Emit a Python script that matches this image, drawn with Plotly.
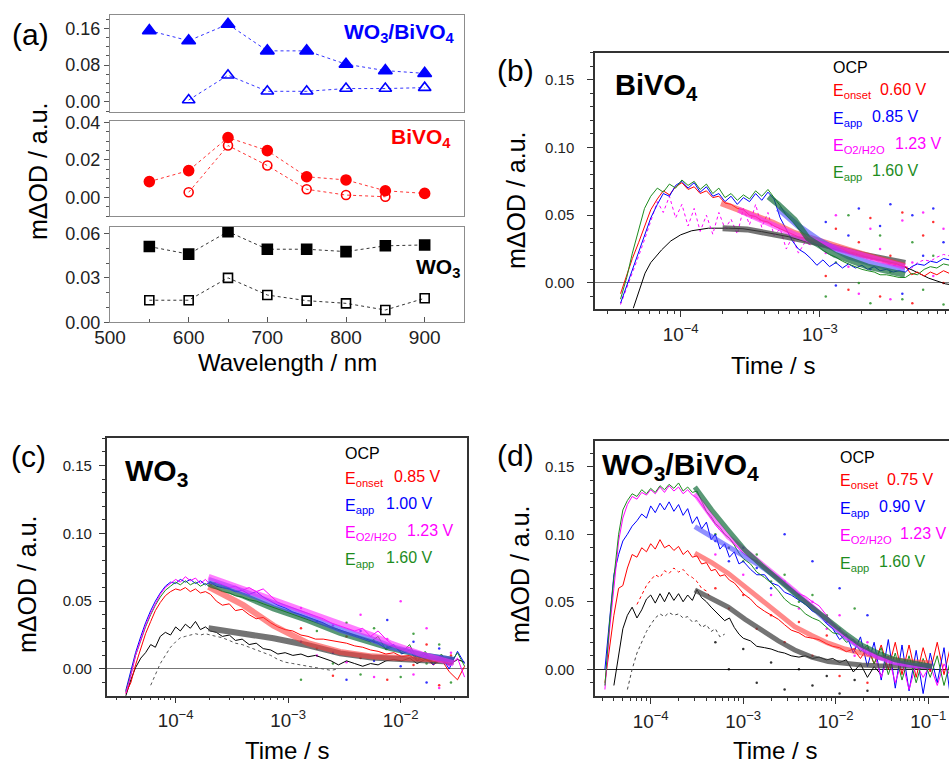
import plotly.graph_objects as go

W, H = 949, 763
FONT = "Arial, Liberation Sans, sans-serif"
RED, BLUE, MAG, GRN, BLK = "#ff0000", "#0000ff", "#ff00ff", "#1e8c1e", "#000000"
FIT = {"k": "rgba(70,70,70,0.75)", "r": "rgba(255,60,60,0.6)", "b": "rgba(70,70,255,0.6)",
       "m": "rgba(255,40,255,0.6)", "g": "rgba(20,110,60,0.7)"}

# ---------------- Panel (a): spectra ----------------
wl = [550, 600, 650, 700, 750, 800, 850, 900]
wl_comp_open = [600, 650, 700, 750, 800, 850, 900]
comp_filled = [0.155, 0.133, 0.169, 0.111, 0.111, 0.082, 0.068, 0.062]
comp_open = [0.004, 0.058, 0.023, 0.023, 0.029, 0.029, 0.031]
wl_bv_open = [600, 650, 700, 750, 800, 850]
bivo4_filled = [0.0084, 0.0143, 0.0320, 0.0250, 0.0110, 0.0093, 0.0035, 0.0021]
bivo4_open = [0.0027, 0.0277, 0.0170, 0.0043, 0.0012, 0.0003]
wo3_filled = [0.0511, 0.0460, 0.0612, 0.0493, 0.0493, 0.0477, 0.0516, 0.0522]
wo3_open = [0.0149, 0.0149, 0.0300, 0.0184, 0.0146, 0.0128, 0.0083, 0.0162]

# ---------------- Panel (b): BiVO4 transients ----------------
b_t = [3.7e-5, 4.1e-5, 4.5e-5, 5.0e-5, 5.5e-5, 6.1e-5, 6.8e-5, 7.5e-5, 8.3e-5, 9.2e-5,
       1.02e-4, 1.13e-4, 1.25e-4, 1.38e-4, 1.53e-4, 1.7e-4, 1.88e-4, 2.08e-4, 2.3e-4, 2.55e-4,
       2.82e-4, 3.12e-4, 3.45e-4, 3.82e-4, 4.23e-4, 4.68e-4, 5.18e-4, 5.73e-4, 6.34e-4, 7.0e-4,
       7.8e-4, 8.6e-4, 9.5e-4, 1.05e-3, 1.17e-3, 1.3e-3, 1.45e-3, 1.6e-3, 1.8e-3, 2.0e-3,
       2.2e-3, 2.45e-3, 2.7e-3, 3.0e-3, 3.35e-3, 3.7e-3, 4.1e-3, 4.55e-3, 5.0e-3, 5.6e-3,
       6.2e-3, 6.9e-3, 7.7e-3, 8.5e-3]
b_green = [-0.012, 0.004, 0.022, 0.040, 0.055, 0.064, 0.070, 0.067, 0.073, 0.070,
           0.076, 0.072, 0.075, 0.069, 0.073, 0.066, 0.070, 0.063, 0.066, 0.061,
           0.065, 0.062, 0.068, 0.064, 0.069, 0.063, 0.057, 0.050, 0.045, 0.040,
           0.035, 0.031, 0.028, 0.024, 0.021, 0.019, 0.016, 0.014, 0.012, 0.010,
           0.009, 0.008, 0.006, 0.006, 0.005, 0.004, 0.004, 0.007, 0.006, 0.010,
           0.012, 0.011, 0.014, 0.013]
b_blue = [-0.015, -0.002, 0.010, 0.022, 0.035, 0.048, 0.058, 0.066, 0.064, 0.072,
          0.075, 0.070, 0.074, 0.067, 0.071, 0.064, 0.066, 0.060, 0.064, 0.058,
          0.063, 0.060, 0.066, 0.061, 0.067, 0.062, 0.048, 0.040, 0.031, 0.025,
          0.022, 0.018, 0.013, 0.017, 0.012, 0.015, 0.011, 0.014, 0.011, 0.013,
          0.010, 0.012, 0.009, 0.010, 0.008, 0.009, 0.008, 0.012, 0.014, 0.013,
          0.016, 0.015, 0.018, 0.017]
b_red = [-0.008, 0.006, 0.018, 0.030, 0.042, 0.054, 0.062, 0.068, 0.065, 0.071,
         0.074, 0.069, 0.071, 0.066, 0.068, 0.063, 0.064, 0.059, 0.058, 0.055,
         0.054, 0.050, 0.049, 0.046, 0.045, 0.042, 0.040, 0.038, 0.036, 0.034,
         0.033, 0.031, 0.030, 0.029, 0.027, 0.026, 0.025, 0.023, 0.022, 0.020,
         0.019, 0.018, 0.017, 0.015, 0.014, 0.013, 0.012, 0.006, 0.008, 0.005,
         0.008, 0.006, 0.009, 0.007]
b_mag = [-0.016, -0.004, 0.008, 0.020, 0.032, 0.045, 0.060, 0.052, 0.064, 0.048,
         0.058, 0.042, 0.055, 0.038, 0.050, 0.036, 0.052, 0.040, 0.047, 0.036,
         0.055, 0.043, 0.058, 0.041, 0.052, 0.035, 0.040, 0.025, 0.034, 0.022,
         0.030, 0.028, 0.030, 0.028, 0.026, 0.025, 0.024, 0.022, 0.021, 0.020,
         0.018, 0.017, 0.016, 0.015, 0.013, 0.013, 0.012, 0.011, 0.015, 0.017,
         0.016, 0.019, 0.021, 0.020]
b_ocp_t = [4.57e-5, 5.0e-5, 5.55e-5, 6.1e-5, 7.3e-5, 8.5e-5, 1.0e-4, 1.2e-4, 1.58e-4, 2.2e-4,
           2.8e-4, 3.8e-4, 5.9e-4, 8.7e-4, 1.51e-3, 2.5e-3, 3.47e-3, 4.57e-3, 6.03e-3, 7.94e-3, 8.9e-3]
b_ocp = [-0.0187, -0.006, 0.0072, 0.015, 0.0244, 0.031, 0.0355, 0.0385, 0.0404, 0.0404,
         0.0400, 0.0379, 0.0342, 0.0293, 0.0231, 0.0175, 0.0145, 0.0096, 0.0035, -0.0007, -0.0015]
b_fit_k_t = [2.0e-4, 3.0e-4, 5.9e-4, 1.0e-3, 2.0e-3, 4.1e-3]
b_fit_k = [0.0404, 0.0395, 0.0338, 0.0290, 0.0210, 0.0148]
b_fit_r_t = [1.95e-4, 3.0e-4, 4.6e-4, 6.6e-4, 1.0e-3, 1.6e-3, 2.5e-3, 4.07e-3]
b_fit_r = [0.0589, 0.0515, 0.0445, 0.0367, 0.0305, 0.0244, 0.0185, 0.0126]
b_fit_m_t = [2.6e-4, 4.0e-4, 6.6e-4, 1.0e-3, 1.6e-3, 2.5e-3, 4.07e-3]
b_fit_m = [0.0540, 0.0460, 0.0355, 0.0290, 0.0230, 0.0175, 0.0118]
b_fit_b_t = [5.0e-4, 7.0e-4, 1.0e-3, 1.15e-3, 1.6e-3, 2.5e-3, 4.07e-3]
b_fit_b = [0.0550, 0.0420, 0.0310, 0.0275, 0.0195, 0.0135, 0.0096]
b_fit_g_t = [4.27e-4, 5.0e-4, 6.6e-4, 8.2e-4, 1.28e-3, 2.2e-3, 4.07e-3]
b_fit_g = [0.0637, 0.0580, 0.0465, 0.0330, 0.0207, 0.0120, 0.0059]
b_dot_t = [1.1e-3, 1.3e-3, 1.6e-3, 1.9e-3, 2.3e-3, 2.7e-3, 3.2e-3, 3.9e-3, 4.6e-3, 5.5e-3, 6.5e-3, 7.7e-3]
b_dot_red = [0.005, 0.040, -0.005, 0.030, 0.048, -0.010, 0.020, 0.052, -0.015, 0.035, 0.045, 0.000]
b_dot_blue = [0.045, -0.002, 0.035, 0.055, 0.010, 0.042, 0.058, -0.008, 0.050, 0.020, 0.055, 0.030]
b_dot_mag = [0.022, 0.050, 0.012, -0.008, 0.040, 0.025, -0.012, 0.046, 0.015, 0.052, 0.005, 0.040]
b_dot_green = [-0.010, 0.015, 0.050, 0.000, -0.015, 0.035, 0.008, -0.012, 0.030, -0.005, 0.020, -0.016]

# ---------------- Panel (c): WO3 transients ----------------
c_t = [3.6e-5, 4.0e-5, 4.4e-5, 4.9e-5, 5.4e-5, 6.0e-5, 6.6e-5, 7.3e-5, 8.1e-5, 9.0e-5,
       1.0e-4, 1.1e-4, 1.22e-4, 1.35e-4, 1.5e-4, 1.66e-4, 1.84e-4, 2.04e-4, 2.3e-4, 2.6e-4,
       3.0e-4, 3.4e-4, 3.9e-4, 4.5e-4, 5.2e-4, 6.0e-4, 7.0e-4, 8.1e-4, 9.4e-4, 1.1e-3,
       1.3e-3, 1.5e-3, 1.75e-3, 2.05e-3, 2.4e-3, 2.8e-3, 3.3e-3, 3.9e-3, 4.6e-3, 5.4e-3,
       6.3e-3, 7.4e-3, 8.7e-3, 1.02e-2, 1.2e-2, 1.4e-2, 1.65e-2, 1.95e-2, 2.3e-2, 2.7e-2,
       3.2e-2, 3.7e-2]
c_mag = [-0.018, -0.005, 0.010, 0.022, 0.032, 0.041, 0.048, 0.055, 0.060, 0.063,
         0.066, 0.064, 0.068, 0.065, 0.067, 0.063, 0.066, 0.062, 0.064, 0.062,
         0.060, 0.061, 0.058, 0.060, 0.057, 0.059, 0.054, 0.049, 0.047, 0.045,
         0.043, 0.041, 0.039, 0.037, 0.034, 0.032, 0.030, 0.028, 0.030, 0.024,
         0.028, 0.022, 0.017, 0.014, 0.016, 0.009, 0.012, 0.005, 0.010, 0.002,
         0.008, -0.006]
c_blue = [-0.016, -0.002, 0.012, 0.024, 0.034, 0.043, 0.050, 0.056, 0.061, 0.064,
          0.063, 0.066, 0.064, 0.066, 0.063, 0.065, 0.062, 0.064, 0.061, 0.060,
          0.059, 0.057, 0.058, 0.055, 0.057, 0.053, 0.050, 0.047, 0.045, 0.042,
          0.040, 0.038, 0.036, 0.034, 0.031, 0.029, 0.027, 0.025, 0.023, 0.021,
          0.019, 0.015, 0.018, 0.011, 0.014, 0.006, 0.011, 0.003, 0.009, 0.000,
          0.013, 0.004]
c_green = [-0.017, -0.004, 0.010, 0.021, 0.031, 0.040, 0.047, 0.053, 0.058, 0.061,
           0.064, 0.062, 0.065, 0.062, 0.064, 0.061, 0.063, 0.060, 0.059, 0.057,
           0.056, 0.054, 0.053, 0.051, 0.050, 0.048, 0.046, 0.044, 0.042, 0.040,
           0.038, 0.036, 0.034, 0.032, 0.030, 0.028, 0.026, 0.024, 0.022, 0.020,
           0.024, 0.014, 0.017, 0.012, 0.018, 0.007, 0.013, 0.004, 0.011, 0.003,
           0.012, 0.002]
c_red = [-0.018, -0.010, 0.003, 0.015, 0.026, 0.035, 0.043, 0.049, 0.054, 0.057,
         0.059, 0.058, 0.060, 0.057, 0.059, 0.056, 0.057, 0.055, 0.050, 0.047,
         0.048, 0.043, 0.044, 0.040, 0.037, 0.038, 0.034, 0.031, 0.029, 0.028,
         0.025, 0.024, 0.022, 0.022, 0.021, 0.020, 0.019, 0.017, 0.016, 0.014,
         0.013, 0.011, 0.012, 0.009, 0.010, 0.006, 0.008, 0.003, 0.007, -0.002,
         -0.008, 0.002]
c_ocp = [-0.020, -0.008, 0.001, 0.008, 0.012, 0.018, 0.016, 0.024, 0.027, 0.025,
         0.031, 0.028, 0.033, 0.030, 0.035, 0.029, 0.031, 0.028, 0.027, 0.024,
         0.025, 0.021, 0.022, 0.018, 0.019, 0.015, 0.014, 0.011, 0.012, 0.010,
         0.011, 0.009, 0.010, 0.008, 0.006, 0.003, 0.006, 0.004, 0.002, 0.004,
         0.003, 0.006, 0.007, 0.006, 0.008, 0.004, 0.007, 0.005, 0.006, 0.003,
         0.007, 0.005]
c_ocp_dot = [None, None, None, None, None, -0.012, -0.004, 0.004, 0.010, 0.016,
             0.020, 0.023, 0.024, 0.025, 0.026, 0.025, 0.026, 0.025, 0.024, 0.023,
             0.021, 0.019, 0.018, 0.016, 0.014, 0.012, 0.010, 0.007, 0.005, 0.004,
             0.003, 0.002, 0.001, 0.000, -0.001, 0.000, None, None, None, None,
             None, None, None, None, None, None, None, None, None, None, None, None]
c_fit_t = [1.96e-4, 4.0e-4, 7.4e-4, 1.5e-3, 2.9e-3, 5.5e-3, 8.1e-3, 1.6e-2, 2.96e-2]
c_fit_k = [0.0300, 0.0265, 0.0226, 0.0175, 0.0115, 0.0085, 0.0075, 0.0065, 0.0054]
c_fit_r = [0.0606, 0.0470, 0.0320, 0.0190, 0.0125, 0.0093, 0.0085, 0.0075, 0.0066]
c_fit_b = [0.0656, 0.0570, 0.0484, 0.0390, 0.0290, 0.0220, 0.0165, 0.0100, 0.0066]
c_fit_m = [0.0680, 0.0590, 0.0508, 0.0420, 0.0337, 0.0250, 0.0189, 0.0103, 0.0042]
c_fit_g = [0.0630, 0.0540, 0.0447, 0.0360, 0.0266, 0.0200, 0.0153, 0.0100, 0.0066]
c_dot_t = [1.3e-3, 1.8e-3, 2.5e-3, 3.3e-3, 4.4e-3, 5.8e-3, 7.6e-3, 1.0e-2, 1.3e-2, 1.7e-2, 2.2e-2, 2.8e-2]
c_dot_red = [0.030, 0.015, -0.005, 0.024, 0.008, 0.020, -0.008, 0.014, 0.003, 0.018, -0.012, 0.010]
c_dot_blue = [0.020, 0.035, 0.012, -0.008, 0.028, 0.006, 0.036, 0.002, 0.020, -0.010, 0.015, 0.008]
c_dot_mag = [0.045, 0.010, 0.032, 0.005, 0.040, -0.006, 0.022, 0.050, -0.004, 0.030, -0.014, 0.012]
c_dot_green = [-0.008, 0.028, 0.004, 0.034, -0.004, 0.030, 0.016, -0.006, 0.026, 0.004, 0.018, -0.010]

# ---------------- Panel (d): WO3/BiVO4 transients ----------------
d_t = [3.2e-5, 3.6e-5, 4.0e-5, 4.5e-5, 5.0e-5, 5.6e-5, 6.3e-5, 7.1e-5, 8.0e-5, 9.0e-5,
       1.0e-4, 1.12e-4, 1.26e-4, 1.41e-4, 1.58e-4, 1.78e-4, 2.0e-4, 2.24e-4, 2.51e-4, 2.82e-4,
       3.16e-4, 3.55e-4, 4.0e-4, 4.5e-4, 5.0e-4, 5.6e-4, 6.3e-4, 7.1e-4, 8.0e-4, 9.0e-4,
       1.0e-3, 1.2e-3, 1.4e-3, 1.7e-3, 2.0e-3, 2.4e-3, 2.8e-3, 3.3e-3, 4.0e-3, 4.7e-3,
       5.6e-3, 6.6e-3, 7.9e-3, 9.3e-3, 1.1e-2, 1.3e-2, 1.55e-2, 1.85e-2, 2.2e-2, 2.6e-2,
       3.1e-2, 3.7e-2, 4.4e-2, 5.2e-2, 6.2e-2, 7.4e-2, 8.8e-2, 0.105, 0.125, 0.148, 0.17]
d_mag = [-0.015, 0.030, 0.060, 0.095, 0.112, 0.122, 0.128, 0.126, 0.131, 0.129,
         0.133, 0.130, 0.135, 0.131, 0.136, 0.132, 0.135, 0.130, 0.133, 0.129,
         0.127, 0.122, 0.116, 0.111, 0.107, 0.103, 0.100, 0.097, 0.093, 0.089,
         0.086, 0.082, 0.080, 0.076, 0.072, 0.067, 0.063, 0.060, 0.056, 0.054,
         0.050, 0.047, 0.040, 0.034, 0.029, 0.024, 0.019, 0.017, 0.010, 0.012,
         -0.006, 0.010, -0.010, 0.006, -0.015, 0.004, -0.006, 0.003, -0.012, 0.004, -0.004]
d_green = [-0.012, 0.035, 0.068, 0.100, 0.118, 0.125, 0.130, 0.128, 0.133, 0.130,
           0.134, 0.131, 0.136, 0.133, 0.137, 0.134, 0.138, 0.132, 0.135, 0.131,
           0.132, 0.124, 0.117, 0.113, 0.108, 0.105, 0.100, 0.097, 0.092, 0.086,
           0.082, 0.078, 0.072, 0.068, 0.064, 0.058, 0.052, 0.048, 0.046, 0.041,
           0.038, 0.036, 0.031, 0.027, 0.026, 0.020, 0.022, 0.013, 0.018, 0.004,
           0.016, -0.004, 0.012, -0.008, 0.010, -0.010, 0.008, -0.006, 0.010, -0.012, 0.004]
d_blue = [0.000, 0.040, 0.070, 0.085, 0.095, 0.100, 0.106, 0.110, 0.115, 0.112,
          0.121, 0.116, 0.123, 0.118, 0.124, 0.117, 0.122, 0.114, 0.119, 0.108,
          0.113, 0.104, 0.109, 0.096, 0.100, 0.089, 0.093, 0.083, 0.087, 0.078,
          0.080, 0.074, 0.070, 0.070, 0.064, 0.062, 0.057, 0.055, 0.051, 0.048,
          0.043, 0.041, 0.034, 0.030, 0.022, 0.026, 0.012, 0.024, 0.002, 0.020,
          -0.008, 0.022, -0.014, 0.018, -0.016, 0.014, -0.018, 0.012, -0.010, 0.016, -0.016]
d_red = [-0.010, 0.015, 0.040, 0.060, 0.062, 0.075, 0.085, 0.083, 0.090, 0.087,
         0.093, 0.089, 0.096, 0.090, 0.092, 0.088, 0.091, 0.085, 0.088, 0.083,
         0.084, 0.078, 0.079, 0.073, 0.074, 0.069, 0.070, 0.066, 0.064, 0.060,
         0.056, 0.052, 0.047, 0.043, 0.040, 0.037, 0.033, 0.029, 0.027, 0.024,
         0.023, 0.022, 0.019, 0.017, 0.016, 0.013, 0.015, 0.008, 0.016, 0.004,
         0.018, 0.000, 0.020, -0.004, 0.018, -0.006, 0.016, -0.002, 0.020, -0.004, 0.014]
d_ocp = [None, None, -0.012, 0.010, 0.030, 0.040, 0.046, 0.038, 0.044, 0.052,
         0.055, 0.049, 0.056, 0.050, 0.057, 0.051, 0.056, 0.050, 0.055, 0.051,
         0.059, 0.053, 0.050, 0.046, 0.043, 0.040, 0.036, 0.038, 0.031, 0.026,
         0.023, 0.021, 0.017, 0.016, 0.015, 0.013, 0.012, 0.010, 0.009, 0.010,
         0.008, 0.009, 0.007, 0.008, 0.005, 0.007, -0.002, 0.004, -0.006, 0.002,
         -0.004, None, None, None, None, None, None, None, None, None, None]
d_ocp_dot = [None, None, None, None, None, -0.015, 0.000, 0.012, 0.020, 0.028,
             0.033, 0.038, 0.041, 0.039, 0.042, 0.040, 0.041, 0.038, 0.039, 0.035,
             0.036, 0.031, 0.033, 0.028, 0.030, 0.024, 0.026, None, None, None,
             None, None, None, None, None, None, None, None, None, None,
             None, None, None, None, None, None, None, None, None, None,
             None, None, None, None, None, None, None, None, None, None, None]
d_red_dot = [None, None, None, None, None, None, None, 0.048, 0.055, 0.062,
             0.066, 0.070, 0.068, 0.073, 0.071, 0.075, 0.072, 0.074, 0.070, 0.068,
             0.065, 0.060, 0.058, 0.052, None, None, None, None, None, None,
             None, None, None, None, None, None, None, None, None, None,
             None, None, None, None, None, None, None, None, None, None,
             None, None, None, None, None, None, None, None, None, None, None]
d_fit_t = [3.0e-4, 4.57e-4, 6.9e-4, 1.05e-3, 1.58e-3, 2.4e-3, 3.6e-3, 5.5e-3, 8.3e-3,
           1.26e-2, 1.9e-2, 2.9e-2, 4.4e-2, 6.6e-2, 0.11]
d_fit_k = [0.0587, 0.052, 0.046, 0.037, 0.029, 0.021, 0.0143, 0.009, 0.0057, 0.004,
           0.0032, 0.0026, 0.0022, 0.002, 0.002]
d_fit_r = [0.086, 0.079, 0.071, 0.061, 0.0513, 0.041, 0.0316, 0.025, 0.0193, 0.015,
           0.0119, 0.009, 0.007, 0.0055, 0.0046]
d_fit_b = [0.1056, 0.098, 0.091, 0.084, 0.076, 0.067, 0.057, 0.046, 0.035, 0.024,
           0.0155, 0.009, 0.005, 0.003, 0.002]
d_fit_m = [0.130, 0.113, 0.098, 0.088, 0.079, 0.068, 0.058, 0.047, 0.036, 0.025,
           0.016, 0.009, 0.005, 0.003, 0.002]
d_fit_g = [0.135, 0.118, 0.103, 0.088, 0.077, 0.066, 0.056, 0.046, 0.036, 0.0267,
           0.018, 0.0119, 0.007, 0.0044, 0.002]
d_dot_t = [5e-4, 7e-4, 1e-3, 1.4e-3, 2e-3, 2.8e-3, 4e-3, 5.6e-3, 8e-3, 1.1e-2, 1.6e-2, 2.2e-2]
d_dot_red = [0.060, 0.045, 0.055, 0.030, 0.040, 0.020, 0.035, 0.010, 0.025, -0.005, 0.015, -0.010]
d_dot_blue = [0.095, 0.080, 0.090, 0.075, 0.060, 0.100, 0.055, 0.080, 0.035, 0.060, 0.020, 0.040]
d_dot_mag = [0.085, 0.090, 0.070, 0.080, 0.055, 0.065, 0.045, 0.050, 0.030, 0.040, 0.010, 0.020]
d_dot_green = [0.100, 0.090, 0.080, 0.085, 0.065, 0.070, 0.050, 0.055, 0.040, 0.030, 0.045, 0.015]
d_dot_black = [0.020, 0.000, 0.015, -0.010, 0.005, -0.015, 0.000, -0.012, -0.005, -0.018, -0.008, -0.016]

fig = go.Figure()


def line(x, y, ax, color, width=1.0, dash="solid", opacity=1.0):
    fig.add_trace(go.Scatter(x=x, y=y, xaxis="x" + ax, yaxis="y" + ax, mode="lines",
                             line=dict(color=color, width=width, dash=dash), opacity=opacity,
                             showlegend=False, hoverinfo="skip"))


def dots(x, y, ax, color):
    fig.add_trace(go.Scatter(x=x, y=y, xaxis="x" + ax, yaxis="y" + ax, mode="markers",
                             marker=dict(color=color, size=2.5), opacity=0.8,
                             showlegend=False, hoverinfo="skip"))


def spec(x, y, ax, color, symbol, size):
    fig.add_trace(go.Scatter(x=x, y=y, xaxis="x" + ax, yaxis="y" + ax, mode="lines+markers",
                             line=dict(color=color, width=0.8, dash="dot"),
                             marker=dict(color=color, symbol=symbol, size=size,
                                         line=dict(color=color, width=1.6)),
                             showlegend=False, hoverinfo="skip"))


# panel (a)
spec(wl, comp_filled, "", BLUE, "triangle-up", 12)
spec(wl_comp_open, comp_open, "", BLUE, "triangle-up-open", 11)
spec(wl, bivo4_filled, "2", RED, "circle", 10)
spec(wl_bv_open, bivo4_open, "2", RED, "circle-open", 9)
spec(wl, wo3_filled, "3", BLK, "square", 10)
spec(wl, wo3_open, "3", BLK, "square-open", 9)

# panel (b)
for v, c in [(b_dot_red, RED), (b_dot_blue, BLUE), (b_dot_mag, MAG), (b_dot_green, GRN)]:
    dots(b_dot_t, v, "4", c)
line(b_ocp_t, b_ocp, "4", BLK, 1.0)
line(b_t, b_mag, "4", MAG, 1.0, "dot")
line(b_t, b_red, "4", RED, 1.0)
line(b_t, b_blue, "4", BLUE, 1.0)
line(b_t, b_green, "4", GRN, 1.0)
line(b_fit_k_t, b_fit_k, "4", FIT["k"], 6)
line(b_fit_r_t, b_fit_r, "4", FIT["r"], 6)
line(b_fit_b_t, b_fit_b, "4", FIT["b"], 6)
line(b_fit_m_t, b_fit_m, "4", FIT["m"], 6)
line(b_fit_g_t, b_fit_g, "4", FIT["g"], 6)

# panel (c)
for v, c in [(c_dot_red, RED), (c_dot_blue, BLUE), (c_dot_mag, MAG), (c_dot_green, GRN)]:
    dots(c_dot_t, v, "5", c)
line(c_t, c_ocp_dot, "5", "#555555", 1.0, "dot")
line(c_t, c_ocp, "5", BLK, 1.0)
line(c_t, c_red, "5", RED, 1.0)
line(c_t, c_blue, "5", BLUE, 1.0)
line(c_t, c_green, "5", GRN, 1.0)
line(c_t, c_mag, "5", MAG, 1.0)
line(c_fit_t, c_fit_k, "5", FIT["k"], 6)
line(c_fit_t, c_fit_r, "5", FIT["r"], 6)
line(c_fit_t, c_fit_g, "5", FIT["g"], 6)
line(c_fit_t, c_fit_b, "5", FIT["b"], 6)
line(c_fit_t, c_fit_m, "5", FIT["m"], 6)

# panel (d)
for v, c in [(d_dot_red, RED), (d_dot_blue, BLUE), (d_dot_mag, MAG), (d_dot_green, GRN), (d_dot_black, BLK)]:
    dots(d_dot_t, v, "6", c)
line(d_t, d_ocp_dot, "6", "#444444", 1.0, "dot")
line(d_t, d_red_dot, "6", RED, 1.0, "dot")
line(d_t, d_ocp, "6", BLK, 1.0)
line(d_t, d_red, "6", RED, 1.0)
line(d_t, d_blue, "6", BLUE, 1.0)
line(d_t, d_mag, "6", MAG, 1.0)
line(d_t, d_green, "6", GRN, 1.0)
line(d_fit_t, d_fit_k, "6", FIT["k"], 5)
line(d_fit_t, d_fit_r, "6", FIT["r"], 5)
line(d_fit_t, d_fit_b, "6", FIT["b"], 5)
line(d_fit_t, d_fit_m, "6", FIT["m"], 5)
line(d_fit_t, d_fit_g, "6", FIT["g"], 5)


def px_x(a, b):
    return [a / W, b / W]


def px_y(top, bottom):
    return [1 - bottom / H, 1 - top / H]


AGRAY = "#8c8c8c"
tickf_a = dict(family=FONT, size=18, color="#222")
tickf = dict(family=FONT, size=15, color="#222")

lay = dict(width=W, height=H, margin=dict(l=0, r=0, t=0, b=0, autoexpand=False),
           paper_bgcolor="white", plot_bgcolor="white", font=dict(family=FONT))

# (a) axes
xa_dom = px_x(110, 464)
for i, (top, bot, rng, dt, mdt) in enumerate([(15, 112, [-0.022, 0.189], 0.08, 0.02),
                                              (120.7, 216, [-0.010, 0.041], 0.02, 0.005),
                                              (226.7, 322.3, [0.0, 0.0645], 0.03, 0.01)]):
    sfx = "" if i == 0 else str(i + 1)
    last = i == 2
    lay["xaxis" + sfx] = dict(domain=xa_dom, range=[500, 950], anchor="y" + sfx, automargin=False,
                              showline=True, mirror=True, linecolor=AGRAY, linewidth=1,
                              showgrid=False, zeroline=False,
                              showticklabels=last, ticks="inside" if last else "",
                              ticklen=5, tickcolor="#555", dtick=100, tick0=500,
                              tickfont=dict(family=FONT, size=19, color="#222"),
                              ticklabelstandoff=-2,
                              minor=dict(ticks="inside" if last else "", ticklen=3, dtick=50, tickcolor="#555"))
    lay["yaxis" + sfx] = dict(domain=px_y(top, bot), range=rng, anchor="x" + sfx, automargin=False,
                              showline=True, mirror=True, linecolor=AGRAY, linewidth=1,
                              showgrid=False, zeroline=False, ticks="outside", ticklen=5,
                              tickcolor="#555", dtick=dt, tick0=0, tickformat=".2f",
                              tickfont=tickf_a,
                              minor=dict(ticks="outside", ticklen=3, dtick=mdt, tick0=0, tickcolor="#555"))

# (b)(c)(d) axes
panels = {
    "4": dict(x=(595, 949), y=(52.7, 309.3), xr=[-4.615, -2.074], yr=[-0.0195, 0.170], mirror_y=False, so=10, zl="#777"),
    "5": dict(x=(106.7, 466.7), y=(438.3, 695.7), xr=[-4.613, -1.413], yr=[-0.0197, 0.170], mirror_y=True, so=4, zl="#777"),
    "6": dict(x=(595, 949), y=(440.7, 696), xr=[-4.602, -0.776], yr=[-0.0198, 0.1693], mirror_y=False, so=10, zl="#222"),
}
for k, p in panels.items():
    lay["xaxis" + k] = dict(domain=px_x(*p["x"]), type="log", range=p["xr"], anchor="y" + k, automargin=False,
                            showline=True, mirror=True, linecolor="#333", linewidth=1.5,
                            showgrid=False, zeroline=False, ticks="outside", ticklen=6,
                            tickcolor="#333", dtick=1, exponentformat="power",
                            tickfont=tickf, ticklabelstandoff=2,
                            minor=dict(ticks="outside", ticklen=3, tickcolor="#333", showgrid=False))
    lay["yaxis" + k] = dict(domain=px_y(*p["y"]), range=p["yr"], anchor="x" + k, automargin=False,
                            showline=True, mirror=p["mirror_y"], linecolor="#333", linewidth=1.5,
                            showgrid=False, zeroline=True, zerolinecolor=p["zl"], zerolinewidth=1,
                            ticks="outside", ticklen=6, tickcolor="#333", dtick=0.05, tick0=0,
                            tickformat=".2f", tickfont=tickf, ticklabelstandoff=p["so"],
                            minor=dict(ticks="outside", ticklen=3, dtick=0.01, tick0=0, tickcolor="#333"))

fig.update_layout(**lay)

anns = []


def ann(text, xp, yp, size, color=BLK, bold=False, xanchor="center", yanchor="middle", angle=0):
    if bold:
        text = "<b>" + text + "</b>"
    anns.append(dict(text=text, x=xp / W, y=1 - yp / H, xref="paper", yref="paper",
                     xanchor=xanchor, yanchor=yanchor, textangle=angle, showarrow=False,
                     font=dict(family=FONT, size=size, color=color)))


# panel letters
ann("(a)", 31, 34, 30)
ann("(b)", 515, 70, 30)
ann("(c)", 28, 456, 30)
ann("(d)", 515, 455, 30)

# axis titles
YT = "m\u0394OD / a.u."
ann(YT, 38, 171, 25, angle=-90)
ann("Wavelength / nm", 287, 362, 24)
ann(YT, 516, 200, 25, angle=-90)
ann("Time / s", 773, 365, 24)
ann(YT, 27, 584, 25, angle=-90)
ann("Time / s", 287, 750, 24)
ann(YT, 520, 574, 25, angle=-90)
ann("Time / s", 775, 750, 24)

# panel (a) sample labels
ann("WO<sub>3</sub>/BiVO<sub>4</sub>", 457, 33, 21, BLUE, True, xanchor="right")
ann("BiVO<sub>4</sub>", 453, 138, 21, RED, True, xanchor="right")
ann("WO<sub>3</sub>", 462, 268, 21, BLK, True, xanchor="right")

# big sample labels
ann("BiVO<sub>4</sub>", 613, 87, 29, BLK, True, xanchor="left")
ann("WO<sub>3</sub>", 123, 472, 30, BLK, True, xanchor="left")
ann("WO<sub>3</sub>/BiVO<sub>4</sub>", 600, 466, 30, BLK, True, xanchor="left")

# potential legends
legend_rows = {
    "b": dict(x=831, ocp=67.5, rows=[89, 116.5, 143.5, 171], vx=[878, 870, 893, 870],
              vals=["0.60 V", "0.85 V", "1.23 V", "1.60 V"]),
    "c": dict(x=343, ocp=454, rows=[476, 503, 530, 557.5], vx=[392, 384, 405, 384],
              vals=["0.85 V", "1.00 V", "1.23 V", "1.60 V"]),
    "d": dict(x=838, ocp=457.5, rows=[479, 506, 533.5, 561], vx=[885, 877, 898, 877],
              vals=["0.75 V", "0.90 V", "1.23 V", "1.60 V"]),
}
labels = ["E<sub>onset</sub>", "E<sub>app</sub>", "E<sub>O2/H2O</sub>", "E<sub>app</sub>"]
lcols = [RED, BLUE, MAG, GRN]
for key, L in legend_rows.items():
    ann("OCP", L["x"], L["ocp"], 16, BLK, xanchor="left")
    for lab, yv, vx, val, col in zip(labels, L["rows"], L["vx"], L["vals"], lcols):
        ann(lab, L["x"], yv + 3, 16, col, xanchor="left")
        ann(val, vx, yv, 16, col, xanchor="left")

fig.update_layout(annotations=anns)
fig.write_html("out.html", config={"displayModeBar": False},
               post_script="document.body.style.margin='0px';document.body.style.overflow='hidden';")
